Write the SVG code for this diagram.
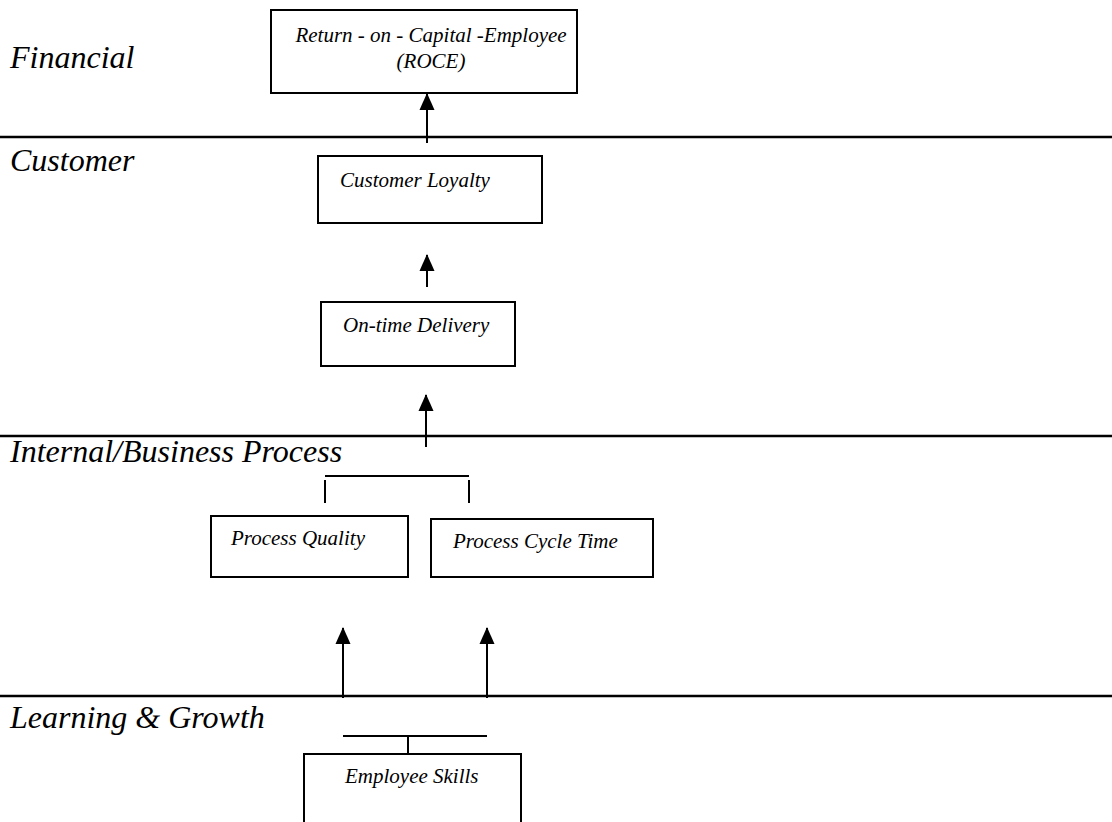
<svg xmlns="http://www.w3.org/2000/svg" width="1112" height="822" viewBox="0 0 1112 822">
<style>
text{font-family:"Liberation Serif","Times New Roman",serif;font-style:italic;fill:#000}
.lane{font-size:32px}
.node{font-size:21px}
.box{fill:#fff;stroke:#000;stroke-width:2}
.ln{stroke:#000;stroke-width:2;fill:none}
.sep{stroke:#000;stroke-width:2.5}
</style>
<defs>
<marker id="ah" markerUnits="userSpaceOnUse" markerWidth="17" markerHeight="16" viewBox="0 0 17 16" refX="16" refY="8" orient="auto">
<path d="M17,8 L0,0.5 L0,15.5 Z" fill="#000"/>
</marker>
</defs>
<rect width="1112" height="822" fill="#fff"/>
<g id="lanes">
<line class="sep" x1="0" y1="137" x2="1112" y2="137"/>
<line class="sep" x1="0" y1="436" x2="1112" y2="436"/>
<line class="sep" x1="0" y1="696" x2="1112" y2="696"/>
<text class="lane" x="10" y="68">Financial</text>
<text class="lane" x="10" y="171">Customer</text>
<text class="lane" x="10" y="462">Internal/Business Process</text>
<text class="lane" x="10" y="728">Learning &amp; Growth</text>
</g>
<g id="roce">
<rect class="box" x="271" y="10" width="306" height="83"/>
<text class="node" x="431" y="42" text-anchor="middle">Return - on - Capital -Employee</text>
<text class="node" x="431" y="68" text-anchor="middle">(ROCE)</text>
</g>
<g id="loyalty">
<rect class="box" x="318" y="156" width="224" height="67"/>
<text class="node" x="340" y="187">Customer Loyalty</text>
</g>
<g id="delivery">
<rect class="box" x="321" y="302" width="194" height="64"/>
<text class="node" x="343" y="332">On-time Delivery</text>
</g>
<g id="quality">
<rect class="box" x="211" y="516" width="197" height="61"/>
<text class="node" x="231" y="545">Process Quality</text>
</g>
<g id="cycle">
<rect class="box" x="431" y="519" width="222" height="58"/>
<text class="node" x="453" y="548">Process Cycle Time</text>
</g>
<g id="skills">
<rect class="box" x="304" y="754" width="217" height="80"/>
<text class="node" x="345" y="783">Employee Skills</text>
</g>
<g id="connectors">
<line class="ln" x1="427" y1="143" x2="427" y2="94" marker-end="url(#ah)"/>
<line class="ln" x1="427" y1="287" x2="427" y2="255" marker-end="url(#ah)"/>
<line class="ln" x1="426" y1="447" x2="426" y2="395" marker-end="url(#ah)"/>
<line class="ln" x1="325" y1="476" x2="469" y2="476"/>
<line class="ln" x1="325" y1="480" x2="325" y2="503"/>
<line class="ln" x1="469" y1="480" x2="469" y2="503"/>
<line class="ln" x1="343" y1="698" x2="343" y2="628" marker-end="url(#ah)"/>
<line class="ln" x1="487" y1="698" x2="487" y2="628" marker-end="url(#ah)"/>
<line class="ln" x1="343" y1="736" x2="487" y2="736"/>
<line class="ln" x1="408" y1="736" x2="408" y2="754"/>
</g>
</svg>
